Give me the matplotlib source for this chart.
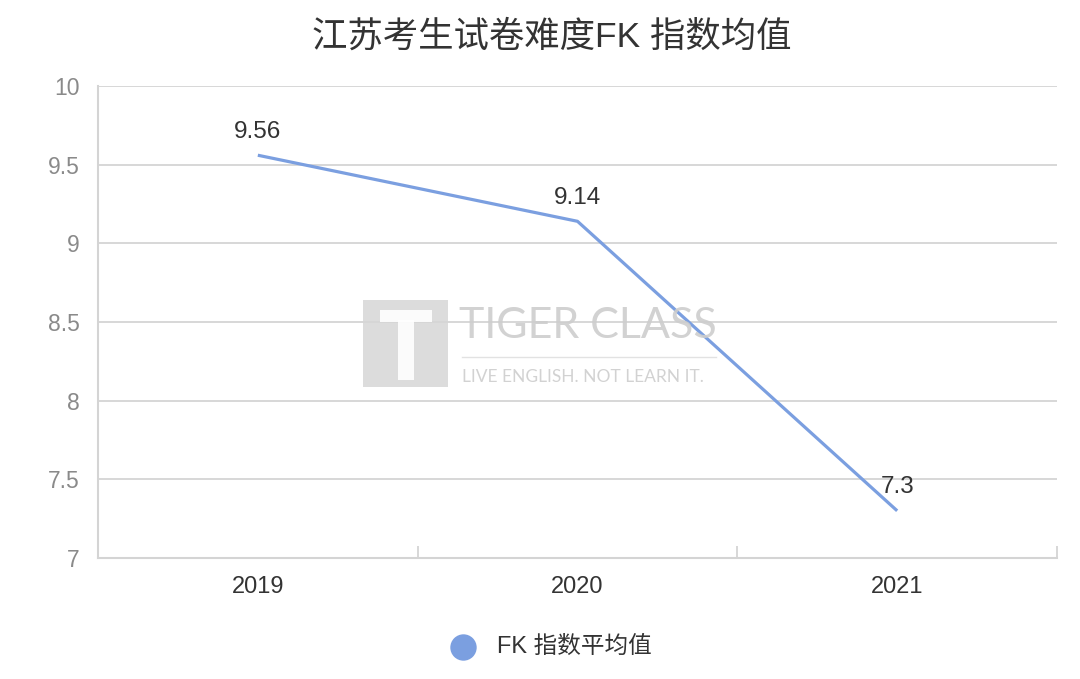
import matplotlib
matplotlib.use("Agg")
import matplotlib.pyplot as plt
from matplotlib.patches import Rectangle
from matplotlib.lines import Line2D

plt.rcParams['font.family'] = ['Liberation Sans', 'Noto Sans CJK SC', 'DejaVu Sans']

title = "江苏考生试卷难度FK 指数均值"
years = ["2019", "2020", "2021"]
values = [9.56, 9.14, 7.3]
value_labels = ["9.56", "9.14", "7.3"]
series_name = "FK 指数平均值"
y_ticks = [7, 7.5, 8, 8.5, 9, 9.5, 10]
y_tick_labels = ["7", "7.5", "8", "8.5", "9", "9.5", "10"]

W, H = 1080, 679
fig = plt.figure(figsize=(W / 100, H / 100), dpi=100)
ax = fig.add_axes([98 / W, 1 - 558 / H, (1057 - 98) / W, (558 - 86) / H])

line_color = "#7b9fe0"
grid_color = "#d4d4d4"

x = list(range(len(years)))
ax.plot(x, values, color=line_color, lw=2.3, solid_capstyle='butt', zorder=5)
for xi, v, lab in zip(x, values, value_labels):
    ax.annotate(lab, (xi, v), xytext=(0, 17), textcoords='offset points',
                ha='center', va='center', fontsize=17.5, color='#333333', zorder=6)

ax.set_xlim(-0.5, len(years) - 0.5)
ax.set_ylim(7, 10)
ax.set_yticks(y_ticks)
ax.set_yticklabels(y_tick_labels)
ax.tick_params(axis='y', length=0, pad=13, labelsize=16.5, labelcolor='#8a8a8a')
ax.yaxis.grid(True, color=grid_color, lw=1.3)
ax.set_axisbelow(True)

ax.set_xticks(x)
ax.set_xticklabels(years)
ax.tick_params(axis='x', length=0, pad=13, labelsize=17, labelcolor='#333333')
ax.set_xticks([i - 0.5 for i in range(len(years) + 1)], minor=True)
ax.tick_params(axis='x', which='minor', direction='in', length=9, width=1.3, color=grid_color)

for s in ['top', 'right']:
    ax.spines[s].set_visible(False)
for s in ['left', 'bottom']:
    ax.spines[s].set_color(grid_color)
    ax.spines[s].set_linewidth(1.5)

fig.text(552 / W, 1 - 37 / H, title, ha='center', va='center', fontsize=25.5, color='#333333')

# watermark
wm = '#d6d6d6'
fig.patches.append(Rectangle((363 / W, 1 - 387 / H), 85 / W, 87 / H, transform=fig.transFigure,
                             facecolor=wm, edgecolor='none', alpha=0.85, zorder=1))
fig.patches.append(Rectangle((380 / W, 1 - 322 / H), 52 / W, 12 / H, transform=fig.transFigure,
                             facecolor='white', edgecolor='none', alpha=0.9, zorder=1.1))
fig.patches.append(Rectangle((398 / W, 1 - 380 / H), 16 / W, 60 / H, transform=fig.transFigure,
                             facecolor='white', edgecolor='none', alpha=0.9, zorder=1.1))
fig.text(459 / W, 1 - 326 / H, "TIGER CLASS", ha='left', va='center', fontsize=31,
         color='#cdcdcd', alpha=0.9, family=['Lato', 'DejaVu Sans'], fontweight='normal', zorder=1)
fig.lines.append(Line2D([462 / W, 716 / W], [1 - 357 / H, 1 - 357 / H], transform=fig.transFigure,
                        color=wm, lw=1, alpha=0.7, zorder=1))
fig.text(462 / W, 1 - 377 / H, "LIVE ENGLISH. NOT LEARN IT.", ha='left', va='center', fontsize=12.5,
         color='#cdcdcd', alpha=0.9, family=['Lato', 'DejaVu Sans'], zorder=1)

# legend
fig.lines.append(Line2D([463 / W], [1 - 647 / H], transform=fig.transFigure, marker='o',
                        markersize=19, markerfacecolor=line_color, markeredgecolor='none',
                        linestyle='none'))
fig.text(497 / W, 1 - 647 / H, series_name, ha='left', va='center', fontsize=17, color='#333333')

fig.savefig("out.png", dpi=100)
